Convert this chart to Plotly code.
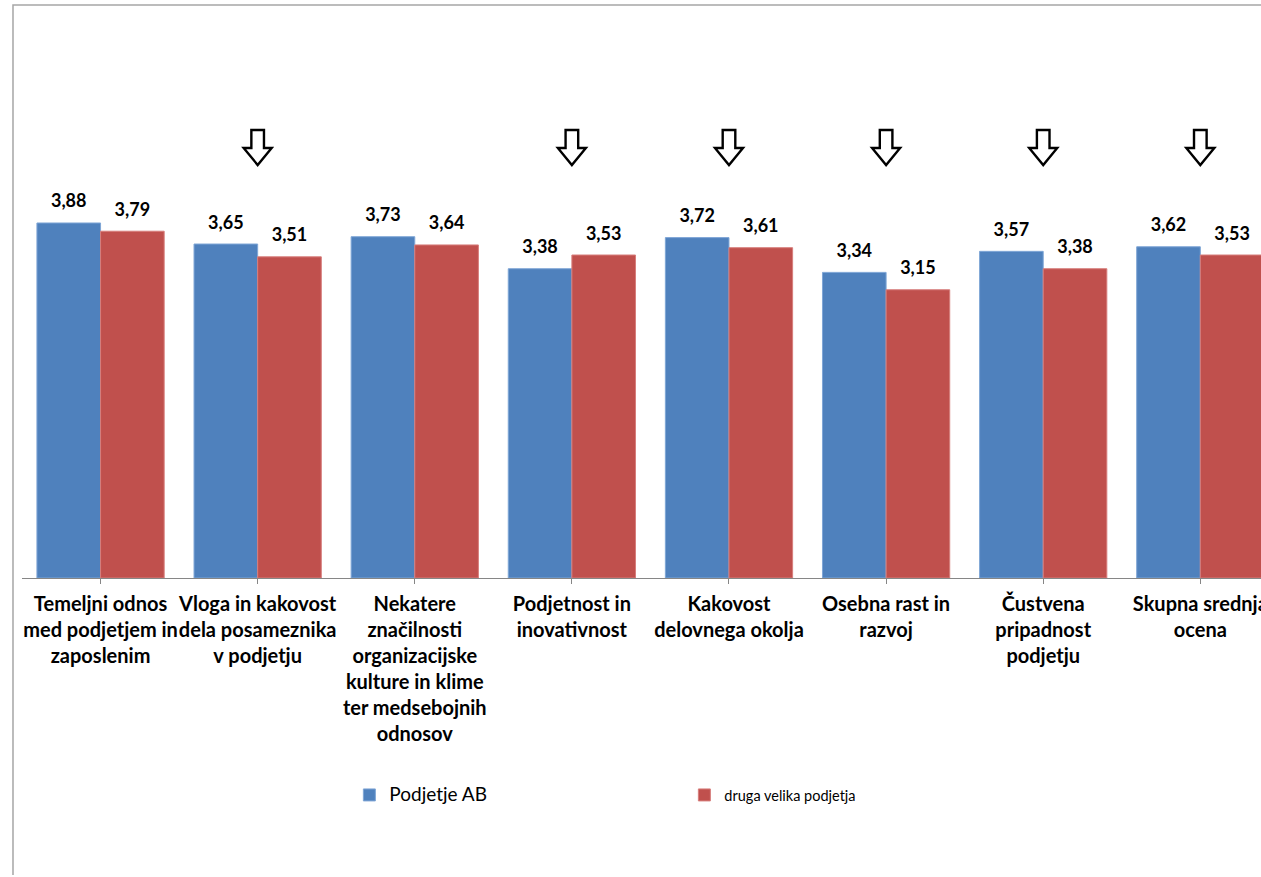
import plotly.graph_objects as go

categories = [
    "Temeljni odnos<br>med podjetjem in<br>zaposlenim",
    "Vloga in kakovost<br>dela posameznika<br>v podjetju",
    "Nekatere<br>značilnosti<br>organizacijske<br>kulture in klime<br>ter medsebojnih<br>odnosov",
    "Podjetnost in<br>inovativnost",
    "Kakovost<br>delovnega okolja",
    "Osebna rast in<br>razvoj",
    "Čustvena<br>pripadnost<br>podjetju",
    "Skupna srednja<br>ocena",
]
podjetje_ab = [3.88, 3.65, 3.73, 3.38, 3.72, 3.34, 3.57, 3.62]
druga_podjetja = [3.79, 3.51, 3.64, 3.53, 3.61, 3.15, 3.38, 3.53]
arrow_flags = [False, True, False, True, True, True, True, True]

series_names = ["Podjetje AB", "druga velika podjetja"]
BLUE = "#4F81BD"
RED = "#C0504D"
FONT = "Lato"

SX = 1269 / 1261  # horizontal compensation for the page renderer
W, H = 1269, 877
ML, MT, MB, MR = 22, 29, 299, 0
plot_w = W - ML - MR
plot_h = H - MT - MB
cat_px = 157.0 * SX
px_per_unit = 91.5
x_right = -0.5 + plot_w / cat_px
y_max = plot_h / px_per_unit
base_px = H - MB  # screen y of baseline

xs = list(range(len(categories)))
fig = go.Figure()
fig.add_trace(go.Bar(
    x=xs, y=podjetje_ab, name=series_names[0], offsetgroup="a",
    marker=dict(color=BLUE, line=dict(color="#7FA6D6", width=1)),
    hoverinfo="y",
))
fig.add_trace(go.Bar(
    x=xs, y=druga_podjetja, name=series_names[1], offsetgroup="b",
    marker=dict(color=RED, line=dict(color="#D77E7C", width=1)),
    hoverinfo="y",
))
# value labels (grouped scatter so they align with the bars)
for vals, grp in ((podjetje_ab, "a"), (druga_podjetja, "b")):
    fig.add_trace(go.Scatter(
        x=xs, y=vals, mode="markers+text", offsetgroup=grp,
        marker=dict(size=16, color="rgba(0,0,0,0)"),
        texttemplate="%{y:.2f}", textposition="top center",
        textfont=dict(family=FONT, size=18, color="black", weight="bold"),
        showlegend=False, hoverinfo="skip", cliponaxis=False,
    ))

# down arrows above selected categories
head_half = 14 / 157.0
shaft_half = 6.3 / 157.0
y_top = (base_px - 130) / px_per_unit
y_head = (base_px - 148) / px_per_unit
y_tip = (base_px - 165) / px_per_unit
for i, flag in enumerate(arrow_flags):
    if not flag:
        continue
    path = (f"M {i - shaft_half},{y_top} L {i + shaft_half},{y_top} "
            f"L {i + shaft_half},{y_head} L {i + head_half},{y_head} "
            f"L {i},{y_tip} L {i - head_half},{y_head} "
            f"L {i - shaft_half},{y_head} Z")
    fig.add_shape(type="path", xref="x", yref="y", path=path,
                  line=dict(color="black", width=2.4), fillcolor="white")

# chart frame (left and top border)
fx = -9 * SX / plot_w
fy_top = 1 + 24 / plot_h
fy_bot = -(MB - 2) / plot_h
fig.add_shape(type="path", xref="paper", yref="paper",
              path=f"M {fx},{fy_bot} L {fx},{fy_top} L 1.0,{fy_top}",
              line=dict(color="#A6A6A6", width=1.5))

fig.update_layout(
    width=W - 16, height=H - 16,
    margin=dict(l=ML, r=MR, t=MT, b=MB),
    paper_bgcolor="white", plot_bgcolor="white",
    separators=",.",
    barmode="group", bargap=0.19, bargroupgap=0,
    scattermode="group", scattergap=0.19,
    font=dict(family=FONT, color="black"),
    showlegend=True,
    legend=dict(
        orientation="h", x=(349 * SX - ML) / plot_w, y=-(795 - base_px) / plot_h,
        xanchor="left", yanchor="middle",
        entrywidth=290, entrywidthmode="pixels",
        font=dict(family=FONT, size=14.5, color="black"),
        itemwidth=30, traceorder="normal",
    ),
    xaxis=dict(
        tickmode="array", tickvals=xs, ticktext=categories,
        range=[-0.5, x_right], tickson="boundaries",
        ticks="outside", ticklen=5, tickcolor="#868686",
        showline=True, linecolor="#868686", linewidth=1,
        showgrid=False, zeroline=False,
        tickfont=dict(family=FONT, size=20, color="black", weight="bold"),
        tickangle=0, ticklabelstandoff=3, ticklabeloverflow="allow",
    ),
    yaxis=dict(range=[0, y_max], visible=False, showgrid=False, zeroline=False),
)
fig.data[0].name = '<span style="font-size:19px">Podjetje AB</span>'

post = (
    "document.body.style.margin='0';"
    "document.body.style.overflow='hidden';"
    "document.documentElement.style.overflow='hidden';"
    "var gd=document.getElementById('{plot_id}');"
    "gd.style.overflow='hidden';"
    "gd.style.width='" + str(W) + "px';gd.style.height='" + str(H) + "px';"
    "Plotly.relayout(gd, {'width': " + str(W) + ", 'height': " + str(H) + "});"
)
fig.write_html("out.html", config={"displayModeBar": False}, post_script=post)
